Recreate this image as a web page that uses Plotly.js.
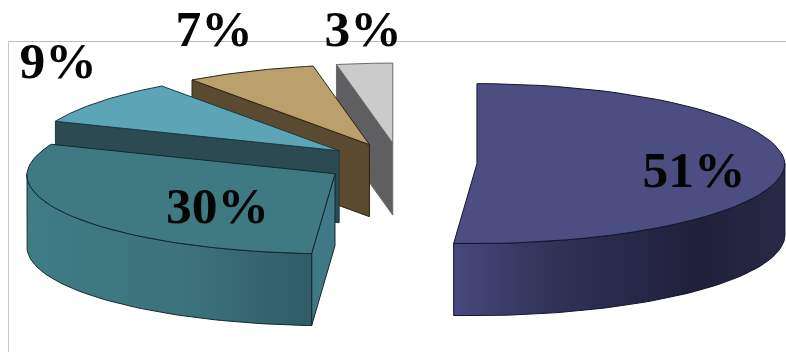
<!DOCTYPE html>
<html>
<head>
<meta charset="utf-8">
<script src="https://cdn.plot.ly/plotly-3.0.1.min.js"></script>
<style>html,body{margin:0;padding:0;background:#fff}#chart{width:786px;height:352px}</style>
</head>
<body>
<div id="chart"></div>
<script>
// Share of each slice, clockwise from twelve o'clock
const sliceNames = ['A', 'B', 'C', 'D', 'E'];
const shares = [51, 30, 9, 7, 3];
const tickLabels = ['51%', '30%', '9%', '7%', '3%'];

// Look of each slice
const topColors = ['#4c4d80', '#3f7a83', '#5ba5b6', '#b9a06c', '#cbcbcb'];
const edgeColors = ['#14142e', '#12282e', '#1c3a40', '#2e2412', '#6a6a6a'];
const rimScales = [
  [[0, '#47487c'], [0.3, '#313257'], [0.75, '#1f1f3a'], [1, '#2a2a48']],
  [[0, '#3f7d86'], [0.6, '#3b717a'], [1, '#2f5c66']],
  null, null, null
];
const wallColors = ['#2a2a48', '#3f7986', '#2b4a51', '#5a4a2f', '#5f5f61'];

// Projection of the tilted, exploded pie, with a slight lean towards the viewer
const pie = {cx: 400, cy: 163, a: 308, b: 80, depth: 72, explode: 0.25, backScale: 0.025, frontLean: 0.05};
const labelPos = [[694, 174], [217.5, 210], [58, 65], [214, 33], [363, 33]];
const drawOrder = [4, 3, 2, 1, 0];

const total = shares.reduce((s, v) => s + v, 0);
const toRad = d => d * Math.PI / 180;
const project = (ox, oy, deg, r) => {
  const sx = Math.sin(toRad(deg)) * r, sy = -Math.cos(toRad(deg)) * r;
  return [
    ox + pie.a * sx * (1 + pie.backScale * Math.min(0, sy)) - pie.frontLean * pie.b * Math.max(0, sy),
    oy + pie.b * sy
  ];
};

// Start and end angle for each slice from its share
let run = 0;
const spans = shares.map(v => {
  const s = run;
  run += v / total * 360;
  return [s, run];
});

const poly = (pts, fill, line, name, grad) => {
  const t = {
    type: 'scatter', mode: 'lines', name,
    x: pts.map(p => p[0]).concat(pts[0][0]),
    y: pts.map(p => p[1]).concat(pts[0][1]),
    fill: 'toself', line: {color: line, width: 1},
    hoverinfo: 'skip', showlegend: false
  };
  if (grad) t.fillgradient = {type: 'horizontal', colorscale: grad};
  else t.fillcolor = fill;
  return t;
};

const traces = [];
drawOrder.forEach(i => {
  const [s, e] = spans[i];
  const mid = (s + e) / 2;
  const ox = pie.cx + pie.a * pie.explode * Math.sin(toRad(mid));
  const oy = pie.cy - pie.b * pie.explode * Math.cos(toRad(mid));
  const arc = [];
  for (let k = 0; k <= 60; k++) arc.push(project(ox, oy, s + (e - s) * k / 60, 1));
  const down = p => [p[0], p[1] + pie.depth];
  const apex = [ox, oy];
  const name = sliceNames[i];

  // Radial wall on the leading edge, for slices where it faces the viewer
  if (i >= 1) {
    const edge = project(ox, oy, s, 1);
    traces.push(poly([apex, edge, down(edge), down(apex)], wallColors[i], edgeColors[i], name));
  }
  // Curved rim, only the part on the near half of the ellipse
  if (rimScales[i]) {
    const lo = Math.max(s, 90), hi = Math.min(e, 270);
    const rim = [];
    for (let k = 0; k <= 60; k++) rim.push(project(ox, oy, lo + (hi - lo) * k / 60, 1));
    traces.push(poly(rim.concat(rim.slice().reverse().map(down)), null, edgeColors[i], name, rimScales[i]));
  }
  // Top face
  traces.push(poly([apex].concat(arc), topColors[i], edgeColors[i], name));
});

// Percentage labels on top of every slice
traces.push({
  type: 'scatter', mode: 'text',
  x: labelPos.map(p => p[0]), y: labelPos.map(p => p[1]),
  text: tickLabels, textposition: 'middle center',
  textfont: {family: '"Liberation Serif", serif', size: 51.5, color: '#050505', weight: 'bold'},
  hoverinfo: 'skip', showlegend: false
});

const layout = {
  width: 786, height: 352,
  margin: {l: 0, r: 0, t: 0, b: 0, pad: 0},
  paper_bgcolor: '#fff', plot_bgcolor: '#fff',
  xaxis: {visible: false, range: [0, 786], fixedrange: true},
  yaxis: {visible: false, range: [352, 0], fixedrange: true},
  shapes: [
    {type: 'line', xref: 'x', yref: 'y', x0: 8.5, x1: 786, y0: 41.5, y1: 41.5, layer: 'below', line: {color: '#bcbcbc', width: 1}},
    {type: 'line', xref: 'x', yref: 'y', x0: 8.5, x1: 8.5, y0: 41.5, y1: 352, layer: 'below', line: {color: '#c8c8c8', width: 1}}
  ]
};

Plotly.newPlot('chart', traces, layout, {staticPlot: true, displayModeBar: false});
</script>
</body>
</html>
